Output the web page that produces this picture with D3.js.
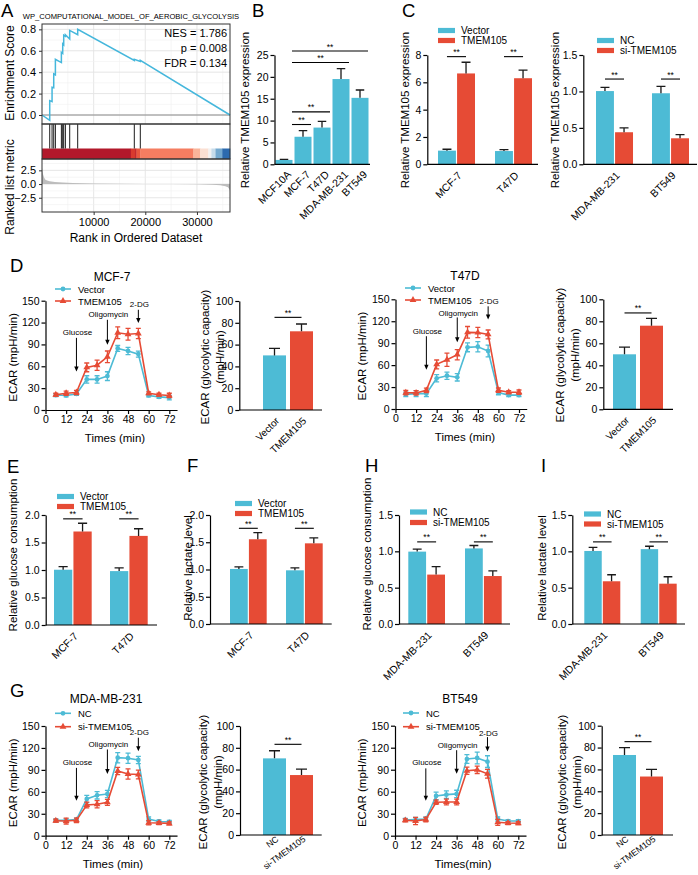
<!DOCTYPE html>
<html><head><meta charset="utf-8"><title>TMEM105 figure</title>
<script src="https://cdn.jsdelivr.net/npm/d3@7"></script>
<style>html,body{margin:0;padding:0;background:#fff}svg{display:block}</style>
</head><body>
<svg id="fig" width="698" height="875" font-family="'Liberation Sans', Arial, Helvetica, sans-serif"></svg>
<script>
// ================= DATA =================
// Panel A (GSEA)
const gseaTitle = "WP_COMPUTATIONAL_MODEL_OF_AEROBIC_GLYCOLYSIS";
const gseaStats = ["NES = 1.786", "p = 0.008", "FDR = 0.134"];
const gseaMaxRank = 36400;
const gseaHits = [1495, 1948, 2270, 2592, 3752, 4010, 4203, 4526, 5364, 6911, 17872, 19033];
const gseaEsBefore = [-0.05, 0.125, 0.255, 0.375, 0.49, 0.575, 0.655, 0.735, 0.71, 0.75, 0.51, 0.50];
const gseaEsAfter  = [0.135, 0.26, 0.385, 0.52, 0.585, 0.665, 0.745, 0.75, 0.79, 0.80, 0.52, 0.51];
const gseaXTicks = [10000, 20000, 30000];
const gseaEsTicks = [0, 0.2, 0.4, 0.6, 0.8];
const gseaMetricTicks = [-2.5, 0, 2.5];
const metricRank  = [0, 80, 200, 400, 660, 1000, 1500, 2500, 4000, 6000, 10000, 15000, 20000, 25000, 30000, 33000, 34500, 35500, 36000, 36250, 36400];
const metricValue = [3.0, 2.4, 1.8, 1.2, 0.8, 0.65, 0.5, 0.38, 0.28, 0.2, 0.12, 0.07, 0.03, 0.0, -0.05, -0.12, -0.22, -0.38, -0.6, -0.9, -1.2];
const heatStart = [0, 17200, 18000, 18300, 19000, 29300, 30600, 32200, 32800, 33600, 34900];
const heatColor = ["#B2182B", "#D93A2E", "#C42A2E", "#E9573F", "#F57D61", "#F9B49A", "#FBE0D3", "#F2F2F2", "#C6DCEB", "#74A9CF", "#2C6AAE"];

// Panel B
const bCats = ["MCF10A", "MCF-7", "T47D", "MDA-MB-231", "BT549"];
const bExpr = [1.0, 6.3, 8.4, 19.5, 15.2];
const bExprErr = [0.12, 1.4, 1.4, 2.4, 1.8];
const bSigPairs = [[0, 1], [0, 2], [0, 3], [0, 4]];
const bSigLevel = [9.1, 12.0, 23.3, 25.9];
const bTicks = [0, 5, 10, 15, 20, 25];

// Panel C
const ovCats = ["MCF-7", "T47D"];
const ovGroups = ["Vector", "TMEM105"];
const c1Vector = [1.0, 0.97], c1VectorErr = [0.1, 0.1];
const c1Tmem = [6.65, 6.3], c1TmemErr = [0.82, 0.6];
const c1SigLevel = [7.88, 7.88];
const c1Ticks = [0, 2, 4, 6, 8];
const kdCats = ["MDA-MB-231", "BT549"];
const kdGroups = ["NC", "si-TMEM105"];
const c2NC = [1.005, 0.975], c2NCErr = [0.05, 0.095];
const c2Si = [0.44, 0.357], c2SiErr = [0.06, 0.05];
const c2SigLevel = [1.17, 1.17];
const c2Ticks = [0, 0.5, 1.0, 1.5];

// Seahorse ECAR time courses (D, G)
const times = [6, 12, 18, 24, 30, 36, 42, 48, 54, 60, 66, 72];
const timeTicks = [0, 12, 24, 36, 48, 60, 72];
const ecarTicks = [0, 30, 60, 90, 120, 150];
const dMcfVector = [20.5, 20, 22, 42, 42, 46.5, 84.5, 81, 76.7, 20, 18, 17];
const dMcfVectorErr = [2, 2, 2, 5, 5, 6, 4, 5, 4, 2, 2, 3];
const dMcfTmem = [21, 23, 24, 58.5, 61.5, 73, 106, 104, 105, 23, 21, 20];
const dMcfTmemErr = [2, 3, 3, 6, 7, 8, 8, 8, 7, 2, 2, 3];
const dT47Vector = [20, 21, 21, 42, 45.5, 43.3, 84.3, 85.2, 79.3, 22.5, 19, 19];
const dT47VectorErr = [3, 4, 4, 5, 5, 5, 6, 7, 8, 3, 2, 2];
const dT47Tmem = [22.3, 22, 25.5, 61, 67.4, 74.3, 104.8, 104.5, 102, 25.7, 23, 23];
const dT47TmemErr = [3, 3, 3, 6, 9, 7, 8, 7, 6, 3, 2, 3];
const gMdaNC = [21, 21, 22, 50.2, 55.2, 57, 106.7, 106, 103.5, 22.8, 19.5, 19];
const gMdaNCErr = [2, 2, 2, 5, 5, 5, 7, 7, 5, 3, 2, 2];
const gMdaSi = [20.5, 20, 21, 42, 43, 45.6, 88.5, 84.4, 83.7, 17.7, 17.3, 16.8];
const gMdaSiErr = [2, 4, 3, 4, 5, 4, 5, 7, 6, 3, 2, 2];
const gBtNC = [21.5, 22, 22.8, 54.3, 56, 57, 104.5, 106, 101, 22.8, 20, 20];
const gBtNCErr = [2, 3, 3, 5, 5, 5, 6, 8, 8, 3, 2, 2];
const gBtSi = [21, 20, 22, 45.6, 46, 46, 88.5, 89.8, 84.4, 18.2, 17.3, 17];
const gBtSiErr = [2, 5, 3, 3, 4, 4, 5, 5, 6, 4, 2, 2];
const injections = ["Glucose", "Oligomycin", "2-DG"];
const injectionTimes = [18, 36, 54];

// Glycolytic capacity (D, G)
const capTicks = [0, 20, 40, 60, 80, 100];
const dMcfCap = [50.1, 72.2], dMcfCapErr = [6.4, 6.7];
const dT47Cap = [50, 76], dT47CapErr = [6.5, 6.6];
const gMdaCap = [70.3, 55], gMdaCapErr = [7, 5.5];
const gBtCap = [73.2, 53.5], gBtCapErr = [6.7, 6.5];
const capSigLevel = { dMcf: 85, dT47: 87.6, gMda: 83.2, gBt: 85.4 };

// Panels E, F, H, I
const relTicks2 = [0, 0.5, 1.0, 1.5, 2.0];
const relTicks15 = [0, 0.5, 1.0, 1.5];
const eVector = [1.005, 0.98], eVectorErr = [0.055, 0.06];
const eTmem = [1.70, 1.62], eTmemErr = [0.15, 0.13];
const fVector = [1.01, 0.985], fVectorErr = [0.04, 0.045];
const fTmem = [1.555, 1.48], fTmemErr = [0.12, 0.1];
const hNC = [0.996, 1.04], hNCErr = [0.035, 0.04];
const hSi = [0.68, 0.66], hSiErr = [0.11, 0.07];
const iNC = [1.005, 1.03], iNCErr = [0.05, 0.04];
const iSi = [0.588, 0.555], iSiErr = [0.09, 0.095];

// ================= DRAWING =================
const BLUE = "#4DBBD5", RED = "#E64B35", ESBLUE = "#45B7DC";
const svg = d3.select("#fig");
const TICK_FS = 10.5, TITLE_FS = 11.5;

function T(g, x, y, s, o = {}) {
  const t = g.append("text").attr("x", x).attr("y", y).text(s)
    .attr("font-size", o.size || TICK_FS)
    .attr("text-anchor", o.anchor || "middle")
    .attr("dominant-baseline", o.base || "central")
    .attr("fill", o.fill || "#000");
  if (o.rotate) t.attr("transform", `rotate(${o.rotate},${x},${y})`);
  return t;
}
function styleAxis(g, color = "#000", w = 1.2, fs = TICK_FS) {
  g.select(".domain").attr("stroke", color).attr("stroke-width", w);
  g.selectAll(".tick line").attr("stroke", color).attr("stroke-width", w);
  g.selectAll(".tick text").attr("font-size", fs).attr("fill", "#000").attr("font-family", null);
}
function yTitle(g, lines, x, y, gap = 15) {
  lines.forEach((s, i) => T(g, x + i * gap, y, s, { size: TITLE_FS, rotate: -90 }));
}

// ---- Panel letters
[["A", 1, 16.5], ["B", 252, 16.5], ["C", 402, 16.5], ["D", 10, 272], ["E", 7, 473],
 ["F", 187, 472], ["H", 365, 472], ["I", 541, 472], ["G", 10, 697]]
  .forEach(([s, x, y]) => T(svg, x, y, s, { size: 18.5, anchor: "start", base: "auto" }));

// ---- Panel A : GSEA
(function () {
  const g = svg.append("g");
  const L = 42, R = 230, esTop = 24, esBot = 124, hitBot = 159, mBot = 212;
  const x = d3.scaleLinear().domain([0, gseaMaxRank]).range([L, R]);
  const yE = d3.scaleLinear().domain([-0.084, 0.85]).range([esBot, esTop]);
  const yM = d3.scaleLinear().domain([-5.1, 4.57]).range([mBot, hitBot]);
  // grids
  const minorX = d3.range(5000, gseaMaxRank, 10000), majorX = gseaXTicks;
  [[esTop, esBot], [hitBot, mBot]].forEach(([t, b]) => {
    g.selectAll(null).data(minorX).join("line").attr("x1", d => x(d)).attr("x2", d => x(d)).attr("y1", t).attr("y2", b).attr("stroke", "#F0F0F0").attr("stroke-width", 0.6);
    g.selectAll(null).data(majorX).join("line").attr("x1", d => x(d)).attr("x2", d => x(d)).attr("y1", t).attr("y2", b).attr("stroke", "#E3E3E3").attr("stroke-width", 0.9);
  });
  g.selectAll(null).data([0.1, 0.3, 0.5, 0.7]).join("line").attr("x1", L).attr("x2", R).attr("y1", d => yE(d)).attr("y2", d => yE(d)).attr("stroke", "#F0F0F0").attr("stroke-width", 0.6);
  g.selectAll(null).data(gseaEsTicks).join("line").attr("x1", L).attr("x2", R).attr("y1", d => yE(d)).attr("y2", d => yE(d)).attr("stroke", "#E3E3E3").attr("stroke-width", 0.9);
  g.selectAll(null).data([-3.75, -1.25, 1.25, 3.75]).join("line").attr("x1", L).attr("x2", R).attr("y1", d => yM(d)).attr("y2", d => yM(d)).attr("stroke", "#F0F0F0").attr("stroke-width", 0.6);
  g.selectAll(null).data(gseaMetricTicks).join("line").attr("x1", L).attr("x2", R).attr("y1", d => yM(d)).attr("y2", d => yM(d)).attr("stroke", "#E3E3E3").attr("stroke-width", 0.9);
  // ES zero line
  g.append("line").attr("x1", L).attr("x2", R).attr("y1", yE(0)).attr("y2", yE(0)).attr("stroke", "#8C8C8C").attr("stroke-width", 1);
  // ES curve
  const pts = [[0, 0]];
  gseaHits.forEach((h, i) => { pts.push([h, gseaEsBefore[i]]); pts.push([h, gseaEsAfter[i]]); });
  pts.push([gseaMaxRank, 0]);
  g.append("path").datum(pts).attr("d", d3.line().x(d => x(d[0])).y(d => yE(d[1])))
    .attr("fill", "none").attr("stroke", ESBLUE).attr("stroke-width", 1.5);
  // heat bar
  const heat = heatStart.map((s, i) => ({ s, e: i < heatStart.length - 1 ? heatStart[i + 1] : gseaMaxRank, c: heatColor[i] }));
  g.selectAll(null).data(heat).join("rect").attr("x", d => x(d.s)).attr("width", d => x(d.e) - x(d.s) + 0.3)
    .attr("y", 148.5).attr("height", hitBot - 148.5).attr("fill", d => d.c);
  // hits
  g.selectAll(null).data(gseaHits).join("line").attr("x1", d => x(d)).attr("x2", d => x(d))
    .attr("y1", esBot).attr("y2", 148.5).attr("stroke", "#000").attr("stroke-width", 0.9);
  // metric area
  const mp = metricRank.map((r, i) => [r, metricValue[i]]);
  g.append("path").datum(mp).attr("d", d3.area().x(d => x(d[0])).y0(yM(0)).y1(d => yM(d[1])))
    .attr("fill", "#BDBDBD");
  // borders
  [[esTop, esBot], [esBot, hitBot], [hitBot, mBot]].forEach(([t, b]) =>
    g.append("rect").attr("x", L).attr("y", t).attr("width", R - L).attr("height", b - t)
      .attr("fill", "none").attr("stroke", "#333").attr("stroke-width", 1));
  // axes
  const ax1 = g.append("g").attr("transform", `translate(${L},0)`).call(d3.axisLeft(yE).tickValues(gseaEsTicks).tickFormat(d3.format(".1f")).tickSize(3).tickSizeOuter(0));
  ax1.select(".domain").remove(); styleAxis(ax1, "#333", 1, 11);
  const ax2 = g.append("g").attr("transform", `translate(${L},0)`).call(d3.axisLeft(yM).tickValues(gseaMetricTicks).tickFormat(d3.format(".1f")).tickSize(3).tickSizeOuter(0));
  ax2.select(".domain").remove(); styleAxis(ax2, "#333", 1, 11);
  const ax3 = g.append("g").attr("transform", `translate(0,${mBot})`).call(d3.axisBottom(x).tickValues(gseaXTicks).tickFormat(d3.format("d")).tickSize(3).tickSizeOuter(0));
  ax3.select(".domain").remove(); styleAxis(ax3, "#333", 1, 11);
  // texts
  T(g, 131, 16, gseaTitle, { size: 7.6 });
  gseaStats.forEach((s, i) => T(g, 227, 33 + i * 15, s, { size: 11, anchor: "end" }));
  T(g, 10, 73, "Enrichment Score", { size: 12, rotate: -90 });
  T(g, 10, 187, "Ranked list metric", { size: 12, rotate: -90 });
  T(g, 136, 238, "Rank in Ordered Dataset", { size: 12 });
})();

// ---- generic bar chart
function barChart(o) {
  const g = svg.append("g");
  const y = d3.scaleLinear().domain([0, o.ymax]).range([o.y0, o.y1]);
  const xb = d3.scaleBand().domain(o.cats).range([o.bandL, o.bandR]).paddingInner(o.pad).paddingOuter(0);
  const ns = o.series.length;
  const xs = d3.scaleBand().domain(d3.range(ns)).range([0, xb.bandwidth()]).paddingInner(ns > 1 ? 0.06 : 0);
  const bw = xs.bandwidth();
  const bars = [];
  o.series.forEach((s, si) => o.cats.forEach((c, ci) =>
    bars.push({ c, ci, si, v: s.vals[ci], e: s.errs[ci], color: s.colors ? s.colors[ci] : s.color })));
  const bx = d => xb(d.c) + xs(d.si);
  g.selectAll(null).data(bars).join("rect").attr("x", bx).attr("width", bw)
    .attr("y", d => y(d.v)).attr("height", d => y(0) - y(d.v)).attr("fill", d => d.color);
  const cap = Math.min(bw * 0.5, 11);
  g.selectAll(null).data(bars).join("path").attr("d", d => {
    const cx = bx(d) + bw / 2, yt = y(d.v + d.e), yb = y(d.v);
    return `M${cx},${yb}V${yt}M${cx - cap / 2},${yt}H${cx + cap / 2}`;
  }).attr("stroke", "#1a1a1a").attr("stroke-width", 1.3).attr("fill", "none");
  // y axis
  const ga = g.append("g").attr("transform", `translate(${o.ax},0)`)
    .call(d3.axisLeft(y).tickValues(o.ticks).tickFormat(d3.format(o.fmt || "d")).tickSize(4).tickSizeOuter(0).tickPadding(2));
  styleAxis(ga);
  // x axis line
  g.append("line").attr("x1", o.ax).attr("x2", o.axEnd).attr("y1", y(0)).attr("y2", y(0)).attr("stroke", "#000").attr("stroke-width", 1.2);
  // category labels
  const lx = o.labelDx == null ? 3 : o.labelDx, ly = o.labelDy == null ? 9 : o.labelDy;
  const rot = o.labelRot || -45;
  g.selectAll(null).data(o.cats).join("text")
    .attr("transform", c => `translate(${xb(c) + xb.bandwidth() / 2 + lx},${y(0) + ly}) rotate(${rot})`)
    .attr("text-anchor", "end").attr("dominant-baseline", "central")
    .attr("font-size", o.labelSize || TICK_FS).text(c => c);
  // significance
  const center = (ci, si) => xb(o.cats[ci]) + xs(si) + bw / 2 + (o.sigShift || 0);
  (o.sig || []).forEach(s => {
    const x1 = center(s.a[0], s.a[1]), x2 = center(s.b[0], s.b[1]), yy = y(s.lvl);
    g.append("line").attr("x1", x1).attr("x2", x2).attr("y1", yy).attr("y2", yy).attr("stroke", "#000").attr("stroke-width", 1.1);
    T(g, (x1 + x2) / 2, yy - 4.5, "**", { size: 8.5 });
  });
  // legend
  if (o.legend) o.series.forEach((s, i) => {
    const yy = o.legend.y + i * o.legend.dy;
    g.append("rect").attr("x", o.legend.x).attr("y", yy - 2.6).attr("width", 17).attr("height", 5.2).attr("fill", s.color);
    T(g, o.legend.x + 23, yy, s.name, { size: 10, anchor: "start" });
  });
  if (o.title) yTitle(g, o.title.lines, o.title.x, o.title.y);
}

// ---- generic ECAR line chart
function lineChart(o) {
  const g = svg.append("g");
  const k = (o.x72 - o.x0) / 72, tmax = 76.5;
  const x = d3.scaleLinear().domain([0, tmax]).range([o.x0, o.x0 + tmax * k]);
  const y = d3.scaleLinear().domain([0, 150]).range([o.y0, o.y150]);
  const gy = g.append("g").attr("transform", `translate(${o.x0},0)`)
    .call(d3.axisLeft(y).tickValues(ecarTicks).tickSize(4).tickSizeOuter(0).tickPadding(2));
  styleAxis(gy);
  const gx = g.append("g").attr("transform", `translate(0,${o.y0})`)
    .call(d3.axisBottom(x).tickValues(timeTicks).tickSize(4).tickSizeOuter(0).tickPadding(2));
  styleAxis(gx);
  const shapes = [d3.symbolCircle, d3.symbolTriangle];
  o.series.forEach((s, i) => {
    const pts = times.map((t, j) => ({ t, v: s.vals[j], e: s.errs[j] }));
    g.append("path").datum(pts).attr("d", d3.line().x(d => x(d.t)).y(d => y(d.v)))
      .attr("fill", "none").attr("stroke", s.color).attr("stroke-width", 1.6);
    g.selectAll(null).data(pts).join("path").attr("d", d => {
      const cx = x(d.t), a = y(d.v + d.e), b = y(d.v - d.e);
      return `M${cx},${a}V${b}M${cx - 2.5},${a}H${cx + 2.5}M${cx - 2.5},${b}H${cx + 2.5}`;
    }).attr("stroke", s.color).attr("stroke-width", 1.3).attr("fill", "none");
    g.selectAll(null).data(pts).join("path")
      .attr("d", d3.symbol().type(shapes[i]).size(i ? 20 : 18))
      .attr("transform", d => `translate(${x(d.t)},${y(d.v)})`).attr("fill", s.color);
    // legend
    const ly = o.legend.y + i * o.legend.dy;
    g.append("line").attr("x1", o.legend.x).attr("x2", o.legend.x + 16).attr("y1", ly).attr("y2", ly).attr("stroke", s.color).attr("stroke-width", 1.6);
    g.append("path").attr("d", d3.symbol().type(shapes[i]).size(i ? 20 : 18)()).attr("transform", `translate(${o.legend.x + 8},${ly})`).attr("fill", s.color);
    T(g, o.legend.x + 23, ly, s.name, { size: 9.5, anchor: "start" });
  });
  // injection arrows
  injections.forEach((name, i) => {
    const a = o.arrows[i], cx = x(injectionTimes[i]);
    T(g, cx + 1, y(a[0]), name, { size: 8 });
    const y1 = y(a[1]), y2 = y(a[2]);
    g.append("line").attr("x1", cx).attr("x2", cx).attr("y1", y1).attr("y2", y2 - 4).attr("stroke", "#000").attr("stroke-width", 1);
    g.append("path").attr("d", `M${cx - 2.2},${y2 - 5}L${cx + 2.2},${y2 - 5}L${cx},${y2}Z`).attr("fill", "#000");
  });
  T(g, o.titleX, o.titleY, o.title, { size: 12 });
  T(g, o.xTitleX, o.y0 + 28, o.xTitle || "Times (min)", { size: TITLE_FS });
  yTitle(g, ["ECAR (mpH/min)"], o.yTitleX, (o.y0 + o.y150) / 2 + 2);
}

// ---- Panel B
barChart({ cats: bCats, series: [{ name: "", color: BLUE, vals: bExpr, errs: bExprErr }],
  ax: 274.5, axEnd: 370, bandL: 275.5, bandR: 368.5, pad: 0.105, ymax: 25, y0: 164.3, y1: 55, ticks: bTicks,
  sig: bSigPairs.map((p, i) => ({ a: [p[0], 0], b: [p[1], 0], lvl: bSigLevel[i] })), sigShift: 8,
  labelDx: 5, labelDy: 8, labelSize: 10.5,
  title: { lines: ["Relative TMEM105 expression"], x: 245, y: 110 } });

// ---- Panel C
barChart({ cats: ovCats, series: [{ name: ovGroups[0], color: BLUE, vals: c1Vector, errs: c1VectorErr }, { name: ovGroups[1], color: RED, vals: c1Tmem, errs: c1TmemErr }],
  ax: 427.3, axEnd: 538, bandL: 438, bandR: 532, pad: 0.351, ymax: 8, y0: 164.3, y1: 55, ticks: c1Ticks,
  sig: ovCats.map((c, i) => ({ a: [i, 0], b: [i, 1], lvl: c1SigLevel[i] })),
  legend: { x: 438, y: 30.5, dy: 10 }, title: { lines: ["Relative TMEM105 expression"], x: 405, y: 110 } });
barChart({ cats: kdCats, series: [{ name: kdGroups[0], color: BLUE, vals: c2NC, errs: c2NCErr }, { name: kdGroups[1], color: RED, vals: c2Si, errs: c2SiErr }],
  ax: 583.3, axEnd: 697, bandL: 596, bandR: 689, pad: 0.339, ymax: 1.5, y0: 164.3, y1: 55, ticks: c2Ticks, fmt: ".1f",
  sig: kdCats.map((c, i) => ({ a: [i, 0], b: [i, 1], lvl: c2SigLevel[i] })),
  legend: { x: 597, y: 40.5, dy: 10 }, title: { lines: ["Relative TMEM105 expression"], x: 555, y: 110 } });

// ---- Panel D
lineChart({ x0: 45.5, x72: 169.3, y0: 410, y150: 300.7, title: "MCF-7", titleX: 112, titleY: 276.5, xTitleX: 115, yTitleX: 12.7,
  legend: { x: 55, y: 289, dy: 12 },
  series: [{ name: ovGroups[0], color: BLUE, vals: dMcfVector, errs: dMcfVectorErr }, { name: ovGroups[1], color: RED, vals: dMcfTmem, errs: dMcfTmemErr }],
  arrows: [[106, 99, 52.7], [130.7, 123.8, 89.4], [144.4, 137.6, 119.3]] });
barChart({ cats: ovGroups, series: [{ name: "", colors: [BLUE, RED], vals: dMcfCap, errs: dMcfCapErr }],
  ax: 239.3, axEnd: 322, bandL: 263, bandR: 313, pad: 0.148, ymax: 100, y0: 410, y1: 301, ticks: capTicks,
  sig: [{ a: [0, 0], b: [1, 0], lvl: capSigLevel.dMcf }], labelSize: 10, labelDx: 3, labelDy: 9,
  title: { lines: ["ECAR (glycolytic capacity)", "(mpH/min)"], x: 204.5, y: 357 } });
lineChart({ x0: 395.5, x72: 519, y0: 409, y150: 299.3, title: "T47D", titleX: 465, titleY: 275.5, xTitleX: 465, yTitleX: 361.7,
  legend: { x: 405, y: 288, dy: 12 },
  series: [{ name: ovGroups[0], color: BLUE, vals: dT47Vector, errs: dT47VectorErr }, { name: ovGroups[1], color: RED, vals: dT47Tmem, errs: dT47TmemErr }],
  arrows: [[106.4, 99.5, 53.7], [130.7, 125.2, 91.2], [147.6, 140.4, 122.5]] });
barChart({ cats: ovGroups, series: [{ name: "", colors: [BLUE, RED], vals: dT47Cap, errs: dT47CapErr }],
  ax: 603.3, axEnd: 673, bandL: 613, bandR: 663, pad: 0.148, ymax: 100, y0: 409.3, y1: 299.3, ticks: capTicks,
  sig: [{ a: [0, 0], b: [1, 0], lvl: capSigLevel.dT47 }], labelSize: 10, labelDx: 3, labelDy: 9,
  title: { lines: ["ECAR (glycolytic capacity)", "(mpH/min)"], x: 559.5, y: 355 } });

// ---- Panels E, F, H, I
barChart({ cats: ovCats, series: [{ name: ovGroups[0], color: BLUE, vals: eVector, errs: eVectorErr }, { name: ovGroups[1], color: RED, vals: eTmem, errs: eTmemErr }],
  ax: 45.7, axEnd: 157, bandL: 54, bandR: 147.7, pad: 0.327, ymax: 2, y0: 625, y1: 515, ticks: relTicks2, fmt: ".1f",
  sig: ovCats.map((c, i) => ({ a: [i, 0], b: [i, 1], lvl: 1.93 })),
  legend: { x: 57, y: 496.5, dy: 10 }, title: { lines: ["Relative glucose consumption"], x: 13.3, y: 555 } });
barChart({ cats: ovCats, series: [{ name: ovGroups[0], color: BLUE, vals: fVector, errs: fVectorErr }, { name: ovGroups[1], color: RED, vals: fTmem, errs: fTmemErr }],
  ax: 210, axEnd: 331.7, bandL: 230, bandR: 322.7, pad: 0.345, ymax: 2, y0: 624, y1: 515, ticks: relTicks2, fmt: ".1f",
  sig: ovCats.map((c, i) => ({ a: [i, 0], b: [i, 1], lvl: 1.756 })),
  legend: { x: 235, y: 503.5, dy: 10 }, title: { lines: ["Relative lactate level"], x: 187.5, y: 568 } });
barChart({ cats: kdCats, series: [{ name: kdGroups[0], color: BLUE, vals: hNC, errs: hNCErr }, { name: kdGroups[1], color: RED, vals: hSi, errs: hSiErr }],
  ax: 399, axEnd: 510, bandL: 408.3, bandR: 501.7, pad: 0.353, ymax: 1.5, y0: 624, y1: 515, ticks: relTicks15, fmt: ".1f",
  sig: kdCats.map((c, i) => ({ a: [i, 0], b: [i, 1], lvl: 1.13 })),
  legend: { x: 410, y: 512, dy: 10.5 }, title: { lines: ["Relative glucose consumption"], x: 366.7, y: 554 } });
barChart({ cats: kdCats, series: [{ name: kdGroups[0], color: BLUE, vals: iNC, errs: iNCErr }, { name: kdGroups[1], color: RED, vals: iSi, errs: iSiErr }],
  ax: 572.3, axEnd: 685, bandL: 584.3, bandR: 676.7, pad: 0.362, ymax: 1.5, y0: 624, y1: 515, ticks: relTicks15, fmt: ".1f",
  sig: kdCats.map((c, i) => ({ a: [i, 0], b: [i, 1], lvl: 1.13 })),
  legend: { x: 584, y: 514, dy: 10 }, title: { lines: ["Relative lactate level"], x: 541.7, y: 568 } });

// ---- Panel G
lineChart({ x0: 45.5, x72: 169.3, y0: 835.7, y150: 726, title: "MDA-MB-231", titleX: 106, titleY: 699, xTitleX: 113, yTitleX: 12.7,
  legend: { x: 55, y: 713.3, dy: 13.4 },
  series: [{ name: kdGroups[0], color: BLUE, vals: gMdaNC, errs: gMdaNCErr }, { name: kdGroups[1], color: RED, vals: gMdaSi, errs: gMdaSiErr }],
  arrows: [[99.6, 92.7, 47.8], [124.8, 117.9, 84.5], [140.9, 134, 115.6]] });
barChart({ cats: kdGroups, series: [{ name: "", colors: [BLUE, RED], vals: gMdaCap, errs: gMdaCapErr }],
  ax: 240, axEnd: 321.7, bandL: 263, bandR: 313, pad: 0.148, ymax: 100, y0: 835, y1: 726, ticks: capTicks,
  sig: [{ a: [0, 0], b: [1, 0], lvl: capSigLevel.gMda }], labelSize: 8.8, labelDx: 3, labelDy: 3, labelRot: -36,
  title: { lines: ["ECAR (glycolytic capacity)", "(mpH/min)"], x: 203, y: 782 } });
lineChart({ x0: 395, x72: 518.3, y0: 835.7, y150: 725.7, title: "BT549", titleX: 460, titleY: 699, xTitleX: 463, xTitle: "Times(min)", yTitleX: 361.7,
  legend: { x: 403, y: 713, dy: 13.7 },
  series: [{ name: kdGroups[0], color: BLUE, vals: gBtNC, errs: gBtNCErr }, { name: kdGroups[1], color: RED, vals: gBtSi, errs: gBtSiErr }],
  arrows: [[99.6, 91.8, 47.8], [122.5, 116.6, 84.5], [139.5, 134.4, 114.8]] });
barChart({ cats: kdGroups, series: [{ name: "", colors: [BLUE, RED], vals: gBtCap, errs: gBtCapErr }],
  ax: 601.7, axEnd: 673, bandL: 613, bandR: 663, pad: 0.148, ymax: 100, y0: 835, y1: 725.7, ticks: capTicks,
  sig: [{ a: [0, 0], b: [1, 0], lvl: capSigLevel.gBt }], labelSize: 8.8, labelDx: 3, labelDy: 3, labelRot: -36,
  title: { lines: ["ECAR (glycolytic capacity)", "(mpH/min)"], x: 561.5, y: 782 } });
</script>
</body></html>
